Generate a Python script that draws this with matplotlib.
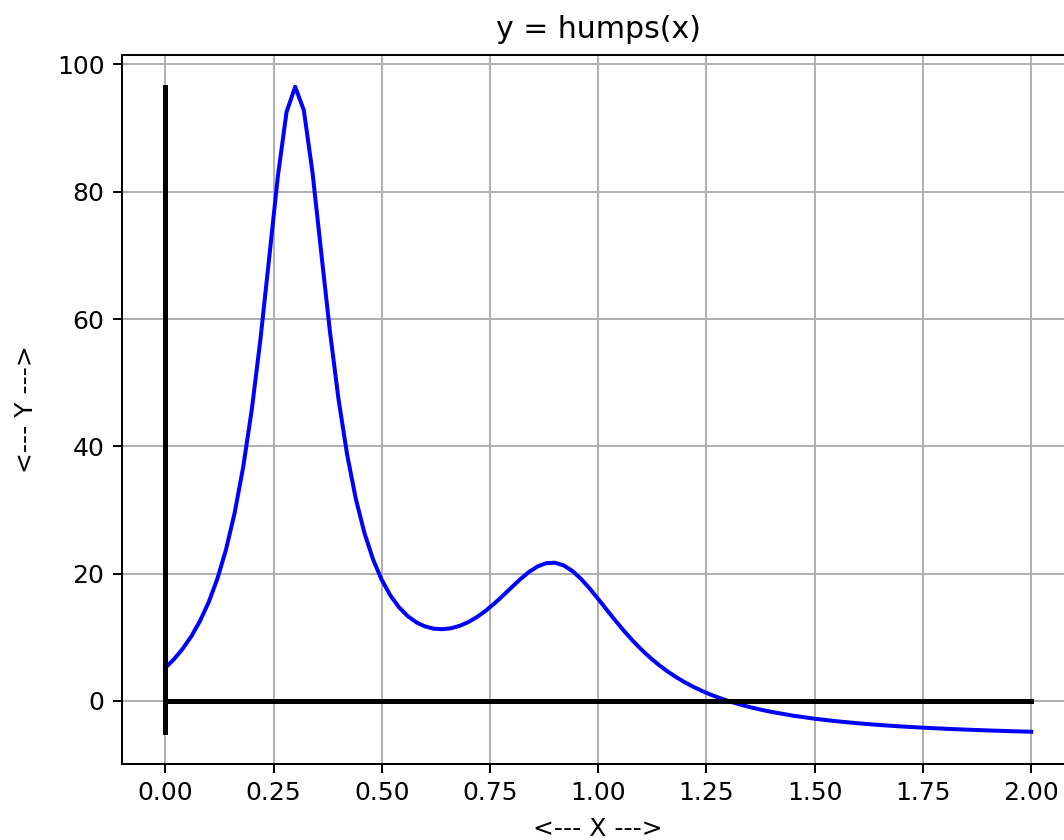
import matplotlib.pyplot as plt
import numpy as np

# x samples (step 0.02 up to 1.40, then 0.05)
x_fine = [round(0.02 * i, 2) for i in range(0, 71)]
x_tail = [1.45, 1.50, 1.55, 1.60, 1.65, 1.70, 1.75, 1.80, 1.85, 1.90, 1.95, 2.00]
x_vals = x_fine + x_tail

y_vals = [
    5.176, 6.540, 8.169, 10.134, 12.527, 15.471, 19.127, 23.709, 29.486, 36.775,
    45.887, 56.966, 69.632, 82.431, 92.510, 96.500, 92.811, 83.035, 70.545, 58.197,
    47.448, 38.682, 31.758, 26.371, 22.206, 19.000, 16.546, 14.689, 13.313, 12.335,
    11.692, 11.343, 11.256, 11.409, 11.789, 12.382, 13.177, 14.156, 15.292, 16.542,
    17.846, 19.118, 20.252, 21.128, 21.639, 21.703, 21.287, 20.421, 19.180, 17.669,
    16.000, 14.275, 12.572, 10.946, 9.429, 8.038, 6.777, 5.643, 4.628, 3.721,
    2.912, 2.190, 1.546, 0.969, 0.454, -0.010, -0.427, -0.803, -1.143, -1.452,
    -1.732,
    -2.330, -2.810, -3.202, -3.525, -3.795, -4.022, -4.215, -4.381, -4.524, -4.649,
    -4.759, -4.855,
]

x = np.array(x_vals)
y = np.array(y_vals)

dpi = 180
fig = plt.figure(figsize=(1064 / dpi, 840 / dpi), dpi=dpi)
ax = fig.add_axes([122 / 1064, 1 - 764 / 840, (1074.5 - 122) / 1064, (764 - 54.5) / 840])

ax.plot(x, y, color='blue', linewidth=1.6)
ax.plot([x.min(), x.max()], [0, 0], color='black', linewidth=2)
ax.plot([0, 0], [y.min(), y.max()], color='black', linewidth=2)

ax.set_title('y = humps(x)', pad=6.5)
ax.set_xlabel('<--- X --->', labelpad=4.5)
ax.set_ylabel('<--- Y --->', labelpad=7.5)
ax.grid(True)

fig.savefig('out.png', dpi=dpi)
